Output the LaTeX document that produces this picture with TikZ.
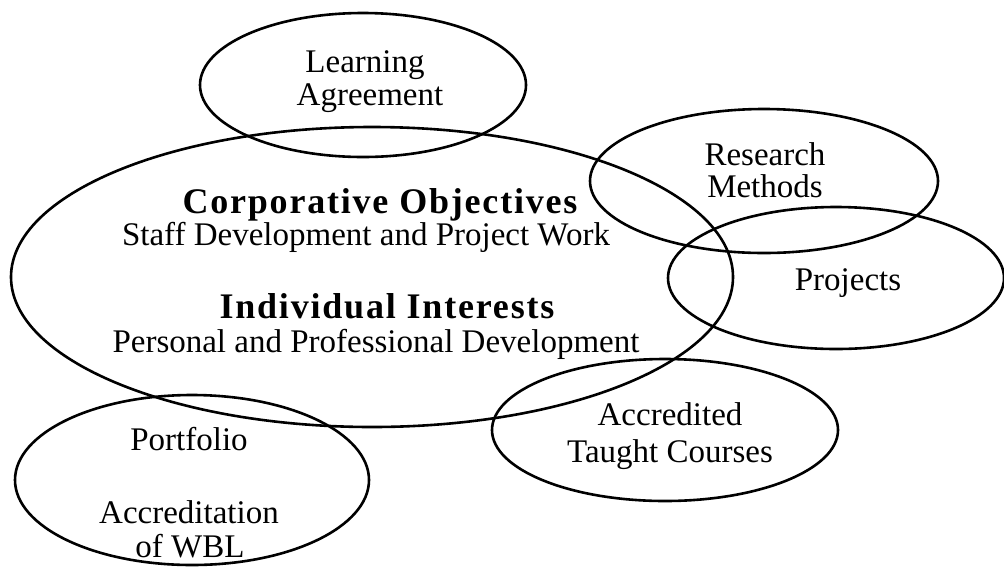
\documentclass[tikz,border=0pt]{standalone}
\usepackage{fontspec}
\setmainfont{Liberation Serif}
\newfontfamily\spacedserif[LetterSpace=5]{Liberation Serif}
\usetikzlibrary{shapes.geometric}
\tikzset{
  oval/.style={ellipse, draw=black, line width=2.6pt, inner sep=0pt},
  lbl/.style={anchor=base, inner sep=0pt, font=\fontsize{33}{36}\selectfont},
  head/.style={anchor=base, inner sep=0pt, font=\spacedserif\bfseries\fontsize{36}{40}\selectfont}
}
\begin{document}
\begin{tikzpicture}[x=1pt,y=-1pt]
\useasboundingbox (0,0) rectangle (1004,566);
\fill[white] (0,0) rectangle (1004,566);
% ellipses
\node[oval, minimum width=326pt, minimum height=144pt] (learn) at (363,85) {};
\node[oval, minimum width=722pt, minimum height=300pt] (big) at (372,277) {};
\node[oval, minimum width=348pt, minimum height=144pt] (research) at (764,181) {};
\node[oval, minimum width=336pt, minimum height=142pt] (projects) at (836,278) {};
\node[oval, minimum width=346pt, minimum height=142pt] (taught) at (665,430) {};
\node[oval, minimum width=354pt, minimum height=170pt] (portfolio) at (192,480) {};
% texts
\node[lbl] (t1) at (365,72) {Learning};
\node[lbl] (t2) at (370,105) {Agreement};
\node[head] (t3) at (380,213) {Corporative Objectives};
\node[lbl] (t4) at (366,245) {Staff Development and Project Work};
\node[head] (t5) at (387,318) {Individual Interests};
\node[lbl] (t6) at (376,352) {Personal and Professional Development};
\node[lbl] (t7) at (765,165) {Research};
\node[lbl] (t8) at (765,197) {Methods};
\node[lbl] (t9) at (848,290) {Projects};
\node[lbl] (t10) at (670,425) {Accredited};
\node[lbl] (t11) at (670,462) {Taught Courses};
\node[lbl] (t12) at (189,450) {Portfolio};
\node[lbl] (t13) at (189,523) {Accreditation};
\node[lbl] (t14) at (190,557) {of WBL};
\end{tikzpicture}
\end{document}
